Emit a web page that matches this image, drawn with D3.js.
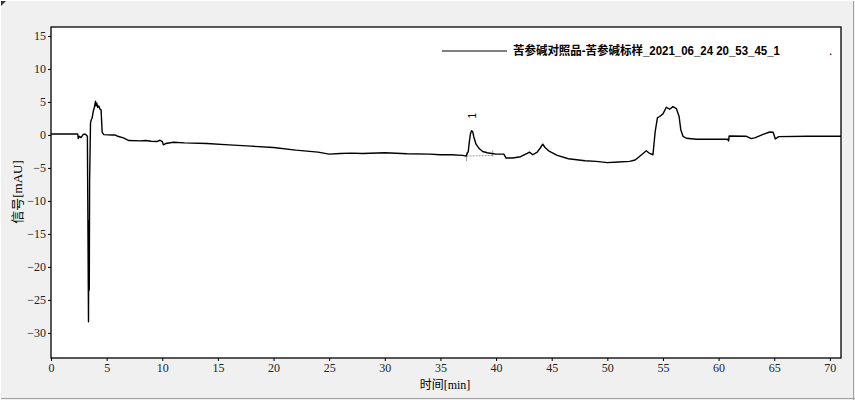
<!DOCTYPE html>
<html><head><meta charset="utf-8">
<script src="https://cdn.jsdelivr.net/npm/d3@7"></script>
<style>
html,body{margin:0;padding:0;background:#f0f0f0;}
svg{display:block;}
</style></head>
<body>
<svg id="chart" width="855" height="400"></svg>
<script>
// ---- data ----
const times = [0,2.4,2.45,2.55,2.7,2.9,3.1,3.27,3.37,3.40,3.44,3.47,3.55,3.6,3.7,3.8,3.9,4.0,4.05,4.12,4.2,4.3,4.4,4.5,4.6,4.75,5.5,5.75,6.0,6.5,7.0,8.0,8.5,9.0,9.5,9.8,10.0,10.1,10.3,11.0,12.0,14.0,16.0,18.0,20.0,22.0,24.0,25.0,26.0,27.0,28.0,30.0,32.0,34.0,35.0,36.0,37.0,37.3,37.5,37.6,37.7,37.8,37.9,38.0,38.2,38.5,38.8,39.2,39.6,40.0,40.7,40.9,41.5,42.2,42.8,43.0,43.3,43.7,44.0,44.2,44.4,44.8,45.5,46.5,48.0,49.0,50.0,51.0,52.0,52.5,53.0,53.5,53.8,54.1,54.3,54.5,54.7,55.0,55.3,55.6,55.9,56.2,56.45,56.6,56.8,57.1,58.0,60.8,60.9,60.95,62.5,62.95,63.3,64.0,64.6,64.9,65.1,65.4,68.0,71.0];
const signal = [0.15,0.15,-0.55,-0.2,-0.4,0.1,0.1,-0.2,-28.3,-13,-23.5,-7,1.8,2.2,2.6,3.6,4.2,5.1,4.4,4.8,4.2,4.4,3.9,3.8,0.4,0.05,0.0,0.0,-0.2,-0.45,-0.85,-0.9,-0.85,-0.95,-1.0,-0.8,-1.0,-1.5,-1.3,-1.1,-1.2,-1.3,-1.5,-1.7,-1.9,-2.3,-2.6,-2.9,-2.8,-2.75,-2.8,-2.7,-2.85,-2.9,-3.0,-3.0,-3.1,-3.2,-2.5,-1.0,0.2,0.65,0.5,-0.3,-1.4,-2.1,-2.5,-2.7,-2.8,-2.9,-2.9,-3.5,-3.5,-3.3,-2.8,-2.6,-3.0,-2.6,-1.9,-1.4,-1.9,-2.5,-3.1,-3.6,-3.9,-4.0,-4.2,-4.1,-4.0,-3.8,-3.1,-2.4,-2.8,-3.0,0.5,2.6,2.8,3.2,4.2,3.9,4.3,4.0,2.8,0.8,-0.2,-0.5,-0.65,-0.65,-0.9,-0.15,-0.2,-0.55,-0.4,0.1,0.45,0.4,-0.6,-0.25,-0.2,-0.2];
const xTicks = [0,5,10,15,20,25,30,35,40,45,50,55,60,65,70];
const yTicks = [15,10,5,0,-5,-10,-15,-20,-25,-30];
const legendLabel = "苦参碱对照品-苦参碱标样_2021_06_24 20_53_45_1";
const peakLabel = "1";
const peakTime = 37.8, peakValue = 0.65;
const peakBaseline = [[37.35,-3.2],[39.7,-3.1]];

// ---- layout ----
const svg = d3.select("#chart");
const L = 51, R = 841, T = 27, B = 358;
const x = d3.scaleLinear().domain([0,71]).range([L,R]);
const y = d3.scaleLinear().domain([-33.8,16.36]).range([B,T]);

// outer frame
svg.append("rect").attr("x",0).attr("y",0).attr("width",855).attr("height",400).attr("fill","#f0f0f0");
svg.append("line").attr("x1",853.5).attr("x2",853.5).attr("y1",0).attr("y2",400).attr("stroke","#a0a0a0");
svg.append("line").attr("x1",0).attr("x2",855).attr("y1",398.5).attr("y2",398.5).attr("stroke","#a0a0a0");
svg.append("line").attr("x1",0.5).attr("x2",0.5).attr("y1",0).attr("y2",400).attr("stroke","#ffffff");
svg.append("line").attr("x1",0).attr("x2",855).attr("y1",0.5).attr("y2",0.5).attr("stroke","#ffffff");
svg.append("path").attr("d","M1,1 L6,1 L1,6 Z").attr("fill","#333");

// plot area
svg.append("rect").attr("x",L).attr("y",T).attr("width",R-L).attr("height",B-T)
  .attr("fill","#fff").attr("stroke","#000").attr("stroke-width",1.3);

const tickFont = "'Liberation Serif','DejaVu Serif',serif";
const xAxis = d3.axisBottom(x).tickValues(xTicks).tickSize(3).tickPadding(2).tickFormat(d3.format("d"));
const gx = svg.append("g").attr("transform",`translate(0,${B})`).call(xAxis);
gx.select(".domain").remove();
gx.selectAll("text").attr("font-family",tickFont).attr("font-size",12).attr("fill","#222");

const yAxis = d3.axisLeft(y).tickValues(yTicks).tickSize(3).tickPadding(2).tickFormat(d3.format("d"));
const gy = svg.append("g").attr("transform",`translate(${L},0)`).call(yAxis);
gy.select(".domain").remove();
gy.selectAll("text").attr("font-family",tickFont).attr("font-size",12).attr("fill","#222");

// axis titles
const xt = svg.append("text").attr("x",445).attr("y",389).attr("text-anchor","middle").attr("fill","#000");
xt.append("tspan").attr("font-family","'Noto Sans CJK SC',sans-serif").attr("font-size",12).text("时间");
xt.append("tspan").attr("font-family",tickFont).attr("font-size",12).text("[min]");

const yt = svg.append("text").attr("transform","translate(22,192) rotate(-90)").attr("text-anchor","middle").attr("fill","#000");
yt.append("tspan").attr("font-family","'Noto Sans CJK SC',sans-serif").attr("font-size",13).text("信号");
yt.append("tspan").attr("font-family",tickFont).attr("font-size",13).text("[mAU]");

// clip
svg.append("clipPath").attr("id","clip").append("rect").attr("x",L).attr("y",T).attr("width",R-L).attr("height",B-T);

// peak baseline
const pb = svg.append("g").attr("stroke","#999").attr("stroke-width",1);
pb.append("line").attr("x1",x(peakBaseline[0][0])).attr("y1",y(peakBaseline[0][1]))
  .attr("x2",x(peakBaseline[1][0])).attr("y2",y(peakBaseline[1][1])).attr("stroke-dasharray","2,1");
pb.append("line").attr("x1",x(peakBaseline[0][0])).attr("x2",x(peakBaseline[0][0]))
  .attr("y1",y(peakBaseline[0][1])-4).attr("y2",y(peakBaseline[0][1])+5);
pb.append("line").attr("x1",x(peakBaseline[1][0])).attr("x2",x(peakBaseline[1][0]))
  .attr("y1",y(peakBaseline[1][1])-5).attr("y2",y(peakBaseline[1][1])+1);

// trace
const pts = times.map((t,i)=>[t,signal[i]]);
svg.append("path").datum(pts).attr("clip-path","url(#clip)")
  .attr("fill","none").attr("stroke","#000").attr("stroke-width",1.4).attr("stroke-linejoin","round")
  .attr("d",d3.line().x(d=>x(d[0])).y(d=>y(d[1])));

// peak label
svg.append("text").attr("transform",`translate(${x(peakTime)+4},${y(peakValue)-15}) rotate(-90)`)
  .attr("text-anchor","middle").attr("font-family","'Liberation Sans',sans-serif").attr("font-size",10).attr("fill","#000").text(peakLabel);

// legend
svg.append("line").attr("x1",442).attr("x2",507).attr("y1",51).attr("y2",51).attr("stroke","#000").attr("stroke-width",1);
svg.append("text").attr("x",513).attr("y",55).attr("font-family","'Liberation Sans','Noto Sans CJK SC',sans-serif")
  .attr("font-weight","bold").attr("font-size",12).attr("textLength",267).attr("lengthAdjust","spacingAndGlyphs")
  .attr("fill","#000").text(legendLabel);
svg.append("text").attr("x",829).attr("y",55).attr("font-family","'Liberation Sans',sans-serif")
  .attr("font-size",12).attr("fill","#000").text(".");
</script>
</body></html>
